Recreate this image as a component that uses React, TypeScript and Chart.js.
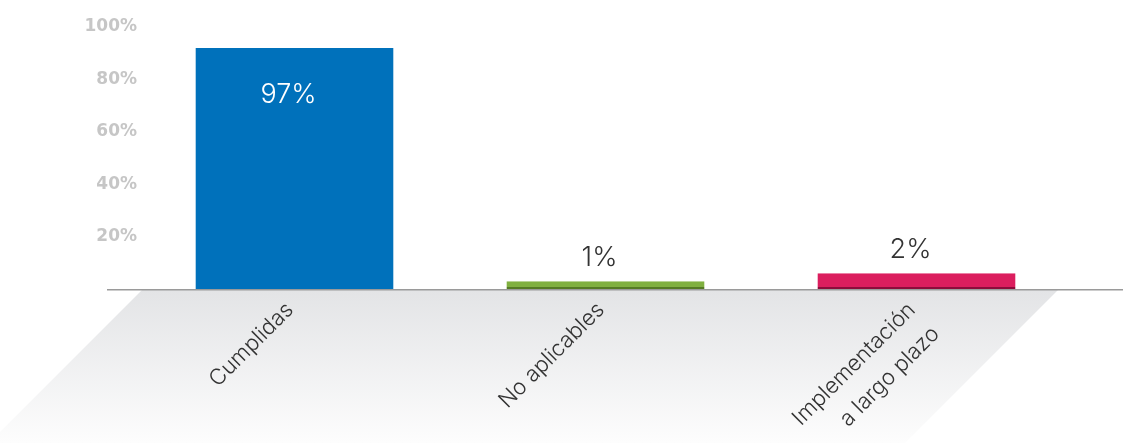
import React, { useEffect, useRef } from "react";
import { Chart, registerables } from "chart.js";

Chart.register(...registerables);

// ---- data ----
const categories: string[][] = [["Cumplidas"], ["No aplicables"], ["Implementación", "a largo plazo"]];
const barHeights = [92, 3, 6]; // bar heights as read against the y axis
const valueLabels = ["97%", "1%", "2%"]; // printed values
const yTicks = [20, 40, 60, 80, 100];

// ---- styles ----
const barColors = ["#0071bb", "#80b040", "#db1e5e"];
const barEdgeColors = ["#0071bb", "#557a25", "#8c0c3b"];
const lightFont = "Inter, Roboto, sans-serif";

const decor = {
  id: "decor",
  beforeDatasetsDraw(chart: any) {
    const { ctx, chartArea: a, width, height } = chart;
    const top = a.bottom + 1;
    const depth = height - top;
    const l = a.left + 3;
    const r = a.right - 14;
    ctx.save();
    const g = ctx.createLinearGradient(0, top, 0, height);
    g.addColorStop(0, "#e3e4e6");
    g.addColorStop(1, "#fdfdfd");
    ctx.fillStyle = g;
    ctx.beginPath();
    ctx.moveTo(l, top);
    ctx.lineTo(r, top);
    ctx.lineTo(r - depth, height);
    ctx.lineTo(l - depth, height);
    ctx.closePath();
    ctx.fill();
    ctx.strokeStyle = "#9a9a9a";
    ctx.lineWidth = 1.5;
    ctx.beginPath();
    ctx.moveTo(a.left - 32, a.bottom + 0.75);
    ctx.lineTo(width, a.bottom + 0.75);
    ctx.stroke();
    ctx.restore();
  },
  afterDatasetsDraw(chart: any) {
    const { ctx, chartArea: a } = chart;
    const meta = chart.getDatasetMeta(0);
    const xs = chart.scales.x;
    ctx.save();
    // value labels
    meta.data.forEach((bar: any, i: number) => {
      const h = bar.base - bar.y;
      const inside = h > 60;
      ctx.font = `300 27px ${lightFont}`;
      ctx.textAlign = "center";
      ctx.textBaseline = "middle";
      ctx.fillStyle = inside ? "#ffffff" : "#333333";
      ctx.fillText(valueLabels[i], bar.x - 6, inside ? bar.y + 47 : bar.y - 23);
    });
    // category labels, rotated 45°
    categories.forEach((lines, i) => {
      const x = xs.getPixelForValue(i);
      const y = a.bottom + 22;
      ctx.save();
      ctx.translate(x, y);
      ctx.rotate(-Math.PI / 4);
      ctx.font = `300 22px ${lightFont}`;
      ctx.textAlign = "right";
      ctx.textBaseline = "alphabetic";
      ctx.fillStyle = "#333333";
      lines.forEach((t, j) => ctx.fillText(t, 0, j * 34));
      ctx.restore();
    });
    ctx.restore();
  },
};

export default function App() {
  const ref = useRef<HTMLCanvasElement | null>(null);
  useEffect(() => {
    if (!ref.current) return;
    const chart = new Chart(ref.current, {
      type: "bar",
      data: {
        labels: categories.map((c) => c.join(" ")),
        datasets: [
          {
            data: barHeights,
            backgroundColor: barColors,
            borderColor: barEdgeColors,
            borderWidth: { top: 0, left: 0, right: 0, bottom: 2 },
            borderSkipped: false,
            barPercentage: 0.637,
            categoryPercentage: 1,
          },
        ],
      },
      options: {
        responsive: false,
        animation: false,
        layout: { padding: { top: 27, bottom: 154, right: 51, left: 0 } },
        plugins: { legend: { display: false }, tooltip: { enabled: false } },
        scales: {
          x: { display: false },
          y: {
            min: 0,
            max: 100,
            grid: { display: false, drawTicks: false },
            border: { display: false },
            afterBuildTicks: (s: any) => {
              s.ticks = yTicks.map((v) => ({ value: v }));
            },
            afterFit: (s: any) => {
              s.width = 139;
            },
            ticks: {
              padding: 2,
              color: "#c6c6c6",
              font: { family: "'DejaVu Sans', sans-serif", weight: "bold", size: 17 },
              callback: (v: any) => `${v}%`,
            },
          },
        },
      },
      plugins: [decor],
    });
    return () => chart.destroy();
  }, []);
  return (
    <div style={{ position: "fixed", left: 0, top: 0, width: 1123, height: 443, background: "#fff" }}>
      <canvas ref={ref} width={1123} height={443} style={{ display: "block" }} />
    </div>
  );
}
